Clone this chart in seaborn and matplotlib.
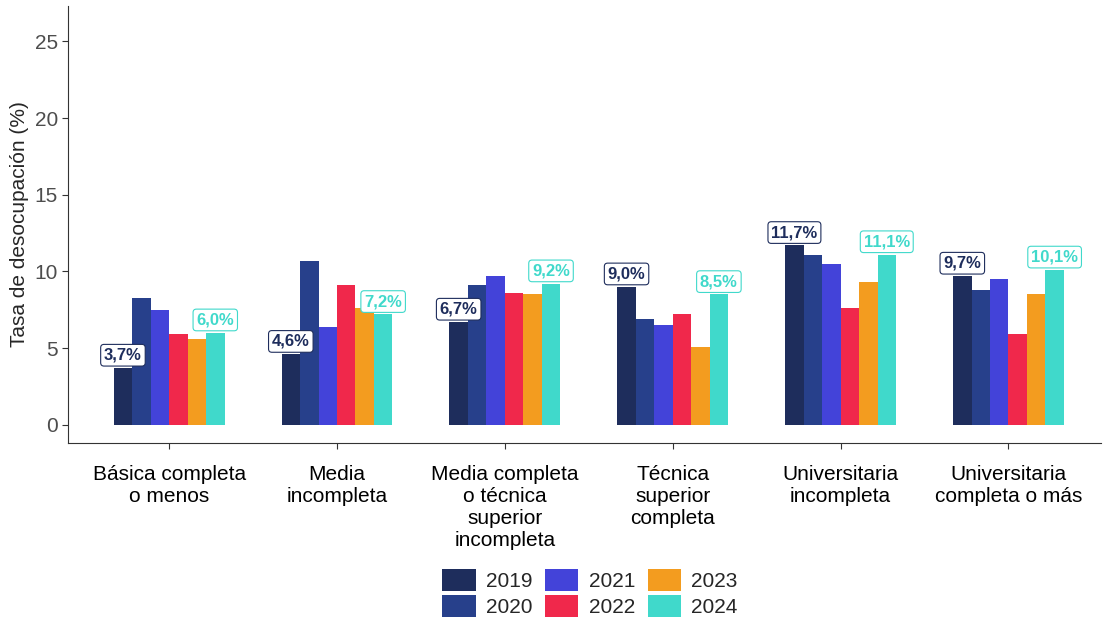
import matplotlib
matplotlib.use("Agg")
import matplotlib.pyplot as plt
import seaborn as sns
import pandas as pd

categories = ["Básica completa\no menos", "Media\nincompleta", "Media completa\no técnica\nsuperior\nincompleta",
              "Técnica\nsuperior\ncompleta", "Universitaria\nincompleta", "Universitaria\ncompleta o más"]
years = ["2019", "2020", "2021", "2022", "2023", "2024"]
v2019 = [3.7, 4.6, 6.7, 9.0, 11.7, 9.7]
v2020 = [8.3, 10.7, 9.1, 6.9, 11.1, 8.8]
v2021 = [7.5, 6.4, 9.7, 6.5, 10.5, 9.5]
v2022 = [5.9, 9.1, 8.6, 7.2, 7.6, 5.9]
v2023 = [5.6, 7.6, 8.5, 5.1, 9.3, 8.5]
v2024 = [6.0, 7.2, 9.2, 8.5, 11.1, 10.1]
colors = ["#1e2d5c", "#27408b", "#4343d9", "#f0284b", "#f39c1f", "#40d9cb"]

series = [v2019, v2020, v2021, v2022, v2023, v2024]
rows = []
for y, vals in zip(years, series):
    for c, v in zip(categories, vals):
        rows.append({"cat": c, "year": y, "val": v})
df = pd.DataFrame(rows)

sns.set_style("white")
plt.rcParams["font.family"] = ["Liberation Sans", "DejaVu Sans"]
fig, ax = plt.subplots(figsize=(11.03, 6.21), dpi=100)
sns.barplot(data=df, x="cat", y="val", hue="year", palette=colors, width=0.66,
            ax=ax, saturation=1, edgecolor="none")
ax.set_ylim(-1.17, 27.3)
ax.set_xlim(-0.6, 5.55)
ax.set_yticks([0, 5, 10, 15, 20, 25])
ax.set_xlabel("")
ax.set_ylabel("Tasa de desocupación (%)", fontsize=15)
ax.tick_params(axis="both", labelsize=15, colors="#333333", length=4, left=True, bottom=True)
ax.tick_params(axis="x", labelcolor="black", pad=12)
ax.tick_params(axis="y", labelcolor="#4d4d4d")
for s in ["top", "right"]:
    ax.spines[s].set_visible(False)
for s in ["left", "bottom"]:
    ax.spines[s].set_color("#333333")

containers = ax.containers
for idx, col in [(0, colors[0]), (5, colors[5])]:
    for bar, v in zip(containers[idx], series[idx]):
        x = bar.get_x() + bar.get_width() / 2
        ax.text(x, v + 0.35, f"{v:.1f}%".replace(".", ","), ha="center", va="bottom",
                fontsize=12, fontweight="bold", color=col,
                bbox=dict(boxstyle="round,pad=0.2", fc="white", ec=col, lw=0.8))

handles, labels = ax.get_legend_handles_labels()
ax.get_legend().remove()
fig.legend(handles, labels, loc="center", bbox_to_anchor=(0.535, 0.045), ncol=3,
           frameon=False, fontsize=15, handlelength=1.6, handleheight=1.3,
           columnspacing=0.6, handletextpad=0.5, labelspacing=0.15)
fig.subplots_adjust(left=0.062, right=0.998, top=0.99, bottom=0.287)
fig.savefig("out.png", dpi=100)
